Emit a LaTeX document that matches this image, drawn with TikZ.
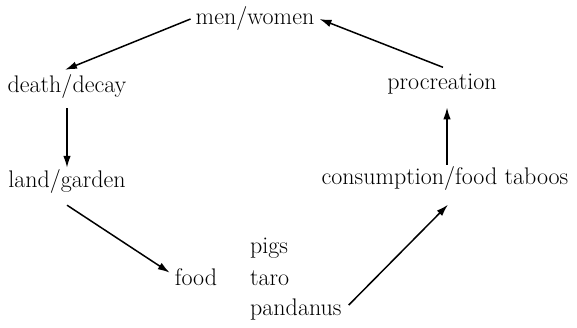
\documentclass[tikz,border=0pt]{standalone}
\usepackage{tikz}
\usetikzlibrary{arrows.meta}

\begin{document}
\begin{tikzpicture}[x=1pt,y=-1pt,
    every node/.style={inner sep=0pt,font=\fontsize{24}{28}\selectfont},
    flow/.style={->,>={Latex[length=12pt,width=7.5pt]},line width=1.5pt}]
    \useasboundingbox (0,0) rectangle (577,328);

    % The cycle
    \node[anchor=base] (men) at (255,25) {men/women};
    \node[anchor=base] (death) at (67,93) {death/decay};
    \node[anchor=base] (proc) at (442,90) {procreation};
    \node[anchor=base] (land) at (67,188) {land/garden};
    \node[anchor=base] (cons) at (445,185) {consumption/food taboos};
    \node[anchor=base] (food) at (196,285) {food};

    % Kinds of food
    \node[anchor=base west] (pigs) at (250,253) {pigs};
    \node[anchor=base west] (taro) at (250,285) {taro};
    \node[anchor=base west] (pandanus) at (250,315) {pandanus};

    % Arrows round the cycle
    \draw[flow] ([xshift=-5pt]men.west) -- ([shift={(-2pt,5pt)}]death.north);
    \draw[flow] ([yshift=-9pt]death.south) -- ([yshift=2pt]land.north);
    \draw[flow] ([yshift=-11pt]land.south) -- ([shift={(-5pt,4pt)}]food.west);
    \draw[flow] ([shift={(7pt,4pt)}]pandanus.east) -- ([shift={(3pt,-13.5pt)}]cons.south);
    \draw[flow] ([shift={(2pt,2pt)}]cons.north) -- ([shift={(5pt,-12.5pt)}]proc.south);
    \draw[flow] ([shift={(1pt,7pt)}]proc.north) -- ([xshift=5pt]men.east);
\end{tikzpicture}
\end{document}
